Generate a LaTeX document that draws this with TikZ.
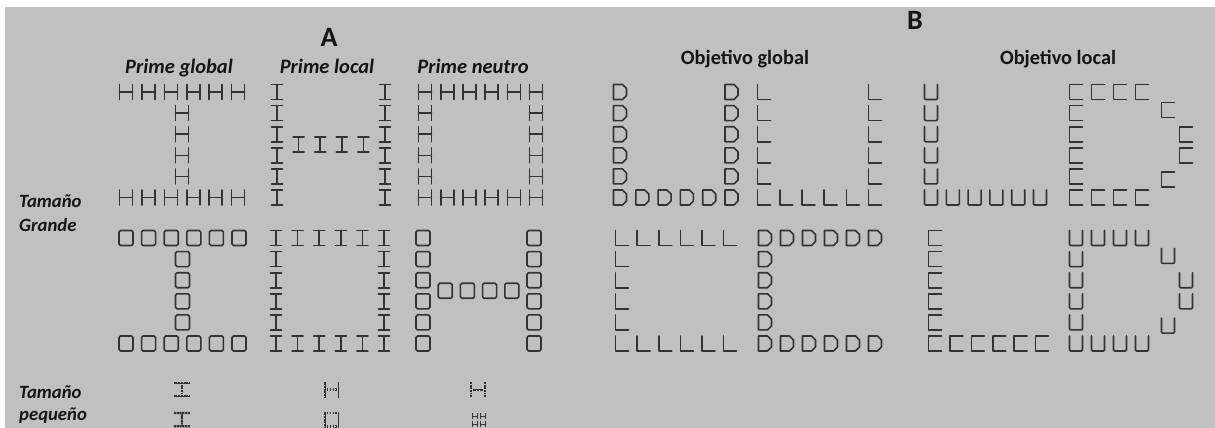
\documentclass[tikz,border=0pt]{standalone}
\usepackage{fontspec}
\setmainfont{Carlito}
\usetikzlibrary{positioning}
\definecolor{panelgray}{HTML}{C0C0C0}
\definecolor{glyphgray}{HTML}{333333}
\definecolor{labelink}{HTML}{151515}
\tikzset{
  % --- panel titles and column heads ---
  paneltitle/.style={font=\bfseries\fontsize{28}{30}\selectfont, text=labelink,
                     inner sep=0pt},
  primehead/.style={font=\bfseries\itshape\fontsize{20.5}{22}\selectfont,
                    text=labelink, inner sep=0pt, anchor=base},
  targethead/.style={font=\bfseries\fontsize{20.3}{22}\selectfont, text=labelink,
                     inner sep=0pt, anchor=base},
  sizelabel/.style={font=\bfseries\itshape\fontsize{18.7}{20}\selectfont,
                    text=labelink, inner sep=0pt, anchor=base west},
  % --- local elements of the compound letters ---
  elem/.style={draw=glyphgray, line width=1.6pt, line cap=round, line join=round},
  tinyelem/.style={elem/.style={draw=glyphgray, line width=#1}},
  tinyelem/.default=0.9pt,
  gH/.pic={\draw[elem] (-6.5,-7.5) -- (-6.5,7.5) (6.5,-7.5) -- (6.5,7.5)
                       (-6.5,0) -- (6.5,0);},
  gI/.pic={\draw[elem] (-5.5,-7.5) -- (5.5,-7.5) (0,-7.5) -- (0,7.5)
                       (-5.5,7.5) -- (5.5,7.5);},
  gSq/.pic={\draw[elem, rounded corners=1.5pt] (-7,-7.5) rectangle (7,7.5);},
  gD/.pic={\draw[elem] (-6.5,-7.5) -- (2.5,-7.5) -- (6.5,-3.5) -- (6.5,3.5)
                       -- (2.5,7.5) -- (-6.5,7.5) -- cycle;},
  gL/.pic={\draw[elem] (-6.5,-7.5) -- (-6.5,7.5) -- (6.5,7.5);},
  gU/.pic={\draw[elem, rounded corners=1pt] (-6.5,-7.5) -- (-6.5,7.5) -- (6.5,7.5)
                       -- (6.5,-7.5);},
  gC/.pic={\draw[elem] (6.5,-7.5) -- (-6.5,-7.5) -- (-6.5,7.5) -- (6.5,7.5);},
}
% global shapes, as col/row of the local elements
\def\shpI{0/0,1/0,2/0,3/0,4/0,5/0,2.5/1,2.5/2,2.5/3,2.5/4,0/5,1/5,2/5,3/5,4/5,5/5}
\def\shpH{0/0,0/1,0/2,0/3,0/4,0/5,5/0,5/1,5/2,5/3,5/4,5/5,1/2.5,2/2.5,3/2.5,4/2.5}
\def\shpO{0/0,1/0,2/0,3/0,4/0,5/0,0/1,0/2,0/3,0/4,5/1,5/2,5/3,5/4,0/5,1/5,2/5,3/5,4/5,5/5}
\def\shpU{0/0,0/1,0/2,0/3,0/4,5/0,5/1,5/2,5/3,5/4,0/5,1/5,2/5,3/5,4/5,5/5}
\def\shpC{0/0,1/0,2/0,3/0,4/0,5/0,0/1,0/2,0/3,0/4,0/5,1/5,2/5,3/5,4/5,5/5}
\def\shpL{0/0,0/1,0/2,0/3,0/4,0/5,1/5,2/5,3/5,4/5,5/5}
\def\shpD{0/0,1/0,2/0,3/0,4.18/0.85,5/2,5/3,4.18/4.15,0/1,0/2,0/3,0/4,0/5,1/5,2/5,3/5}
\def\shpQ{0/0,1/0,0/1,1/1}
\def\rowstep{21.1}
% #1 shape, #2 element, #3/#4 first element, #5 column step
\newcommand{\navon}[5]{%
  \begin{scope}[shift={(#3,#4)}]
    \foreach \cx/\ry in #1 {\pic[transform shape] at (\cx*#5,\ry*\rowstep) {#2};}
  \end{scope}}

\begin{document}
\begin{tikzpicture}[x=1pt, y=-1pt]
  \useasboundingbox (0,0) rectangle (1215,428);
  \fill[white] (0,0) rectangle (1215,428);
  \fill[panelgray] (5,7) rectangle (1215,428);

  % --- A: primes ---
  \node[paneltitle] (titleA) at (329,37) {A};
  \node[primehead] (pglobal) at (179,74) {Prime global};
  \node[primehead] (plocal) at (327,74) {Prime local};
  \node[primehead] (pneutro) at (473,74) {Prime neutro};

  \navon{\shpI}{gH}{126}{92}{22.4}
  \navon{\shpH}{gI}{277}{92}{21.6}
  \navon{\shpO}{gH}{425}{92}{22.2}
  \navon{\shpI}{gSq}{126}{238}{22.6}
  \navon{\shpO}{gI}{276}{238}{21.6}
  \navon{\shpH}{gSq}{423}{238}{22.2}

  % --- B: targets ---
  \node[paneltitle] (titleB) at (915,20) {B};
  \node[targethead] (oglobal) at (745,64) {Objetivo global};
  \node[targethead] (olocal) at (1058,64) {Objetivo local};

  \navon{\shpU}{gD}{620}{92}{22.3}
  \navon{\shpU}{gL}{764}{92}{22.2}
  \navon{\shpL}{gU}{931}{92}{21.8}
  \navon{\shpD}{gC}{1076}{92}{22}
  \navon{\shpC}{gL}{622}{238}{21.6}
  \navon{\shpC}{gD}{765}{238}{22}
  \navon{\shpL}{gC}{935}{238}{21.4}
  \navon{\shpD}{gU}{1076}{238}{22}

  % --- row labels ---
  \node[sizelabel] (bigA) at (19,207) {Tamaño};
  \node[sizelabel, below=24pt of bigA.base west, anchor=base west] (bigB) {Grande};
  \node[sizelabel] (smallA) at (19,398) {Tamaño};
  \node[sizelabel, below=22pt of smallA.base west, anchor=base west] (smallB) {pequeño};

  % --- small size primes ---
  \begin{scope}[shift={(175,383)}, scale=0.125, tinyelem=1pt]
    \navon{\shpI}{gH}{0}{0}{22}
  \end{scope}
  \begin{scope}[shift={(325,383)}, scale=0.125, tinyelem]
    \navon{\shpH}{gI}{0}{0}{22}
  \end{scope}
  \begin{scope}[shift={(471,383)}, scale=0.125, tinyelem=0.7pt]
    \navon{\shpH}{gH}{0}{0}{22}
  \end{scope}
  \begin{scope}[shift={(175,413)}, scale=0.125, tinyelem=0.45pt]
    \navon{\shpI}{gSq}{0}{0}{22}
  \end{scope}
  \begin{scope}[shift={(325,413)}, scale=0.125, tinyelem]
    \navon{\shpO}{gI}{0}{0}{22}
  \end{scope}
  \begin{scope}[shift={(475,416)}, scale=0.4, tinyelem=0.8pt]
    \navon{\shpQ}{gH}{0}{0}{20}
  \end{scope}
\end{tikzpicture}
\end{document}
